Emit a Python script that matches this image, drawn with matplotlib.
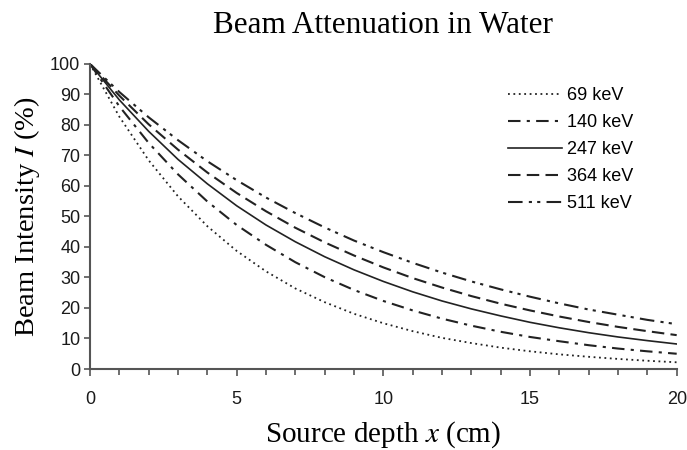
import matplotlib
matplotlib.use('Agg')
import matplotlib.pyplot as plt
from matplotlib.ticker import MultipleLocator

plt.rcParams['mathtext.fontset'] = 'stix'

# depth in cm
depth = list(range(0, 21))

# beam intensity (%)
i69 = [100, 82.7, 68.4, 56.6, 46.8, 38.7, 32.0, 26.4, 21.9, 18.1, 15.0,
       12.4, 10.2, 8.5, 7.0, 5.8, 4.8, 4.0, 3.3, 2.7, 2.2]
i140 = [100, 86.1, 74.1, 63.8, 54.9, 47.2, 40.7, 35.0, 30.1, 25.9, 22.3,
        19.2, 16.5, 14.2, 12.2, 10.5, 9.1, 7.8, 6.7, 5.8, 5.0]
i247 = [100, 88.2, 77.9, 68.7, 60.7, 53.5, 47.2, 41.7, 36.8, 32.5, 28.7,
        25.3, 22.3, 19.7, 17.4, 15.3, 13.5, 11.9, 10.5, 9.3, 8.2]
i364 = [100, 89.6, 80.2, 71.9, 64.4, 57.7, 51.7, 46.3, 41.5, 37.2, 33.3,
        29.8, 26.7, 23.9, 21.4, 19.2, 17.2, 15.4, 13.8, 12.4, 11.1]
i511 = [100, 90.8, 82.5, 75.0, 68.1, 61.9, 56.2, 51.1, 46.4, 42.1, 38.3,
        34.8, 31.6, 28.7, 26.1, 23.7, 21.5, 19.5, 17.8, 16.1, 14.7]
labels = ['69 keV', '140 keV', '247 keV', '364 keV', '511 keV']

fig = plt.figure(figsize=(6.87, 4.5), dpi=100)
ax = fig.add_axes([0.131, 0.18, 0.854, 0.678])

c = '#222222'
ax.plot(depth, i69, color=c, lw=1.3, ls=(0, (1, 2)), label=labels[0])
ax.plot(depth, i140, color=c, lw=1.5, ls=(0, (6, 3, 1.5, 3)), label=labels[1])
ax.plot(depth, i247, color=c, lw=1.2, ls='-', label=labels[2])
ax.plot(depth, i364, color=c, lw=1.5, ls=(0, (6, 3)), label=labels[3])
ax.plot(depth, i511, color=c, lw=1.5, ls=(0, (7, 3, 1.5, 2.5, 1.5, 3)), label=labels[4])

ax.set_xlim(0, 20)
ax.set_ylim(0, 100)
ax.xaxis.set_major_locator(MultipleLocator(5))
ax.xaxis.set_minor_locator(MultipleLocator(1))
ax.yaxis.set_major_locator(MultipleLocator(10))

for s in ['top', 'right']:
    ax.spines[s].set_visible(False)
for s in ['left', 'bottom']:
    ax.spines[s].set_color('#555555')
    ax.spines[s].set_linewidth(1.5)

ax.tick_params(axis='both', which='both', direction='out', color='#555555', width=1.2)
ax.tick_params(axis='x', which='major', length=5, pad=11)
ax.tick_params(axis='x', which='minor', length=4)
ax.tick_params(axis='y', length=4, pad=3)
for t in ax.get_xticklabels() + ax.get_yticklabels():
    t.set_fontfamily('Liberation Sans')
    t.set_fontsize(13)
    t.set_color('#1a1a1a')

ax.set_title('Beam Attenuation in Water', fontfamily='Liberation Serif',
             fontsize=22.5, pad=22)
ax.set_xlabel(r'Source depth $x$ (cm)', fontfamily='Liberation Serif',
              fontsize=21, labelpad=8)
ax.set_ylabel(r'Beam Intensity $I$ (%)', fontfamily='Liberation Serif',
              fontsize=20.5, labelpad=6)

leg = ax.legend(loc='upper right', bbox_to_anchor=(0.954, 0.976), frameon=False,
                handlelength=3.0, handletextpad=0.3, labelspacing=0.55,
                prop={'family': 'Liberation Sans', 'size': 13})

fig.savefig('out.png', dpi=100)
